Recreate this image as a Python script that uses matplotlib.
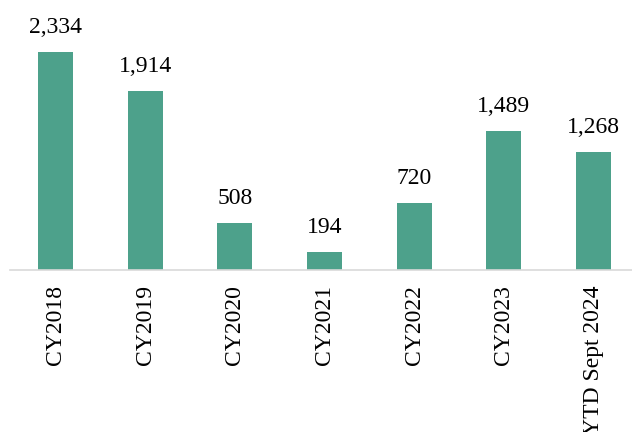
import matplotlib.pyplot as plt

# 各年度数量
categories = ['CY2018', 'CY2019', 'CY2020', 'CY2021', 'CY2022', 'CY2023', 'YTD Sept 2024']
values = [2334, 1914, 508, 194, 720, 1489, 1268]

plt.rcParams['font.family'] = ['Liberation Serif', 'DejaVu Serif']

fig = plt.figure(figsize=(6.32, 4.32), dpi=100)
ax = fig.add_axes([0.0166, 0.375, 0.9937, 0.625])

x = range(len(categories))
bars = ax.bar(x, values, width=0.39, color='#4DA18B', zorder=2)

ax.set_xlim(-0.5, len(categories) - 0.5)
ax.set_ylim(0, 2891)

# 柱顶数值
for rect, v in zip(bars, values):
    ax.annotate(f'{v:,}', (rect.get_x() + rect.get_width() / 2, rect.get_height()),
                xytext=(0, 10), textcoords='offset points',
                ha='center', va='bottom', fontsize=17, color='black')

ax.set_xticks(list(x))
ax.set_xticklabels(categories, rotation=90, fontsize=17, va='top')
ax.tick_params(axis='x', length=0, pad=11)
ax.set_yticks([])

for s in ['top', 'right', 'left']:
    ax.spines[s].set_visible(False)
ax.spines['bottom'].set_color('#d9d9d9')
ax.spines['bottom'].set_linewidth(1.2)

fig.savefig('out.png', dpi=100)
